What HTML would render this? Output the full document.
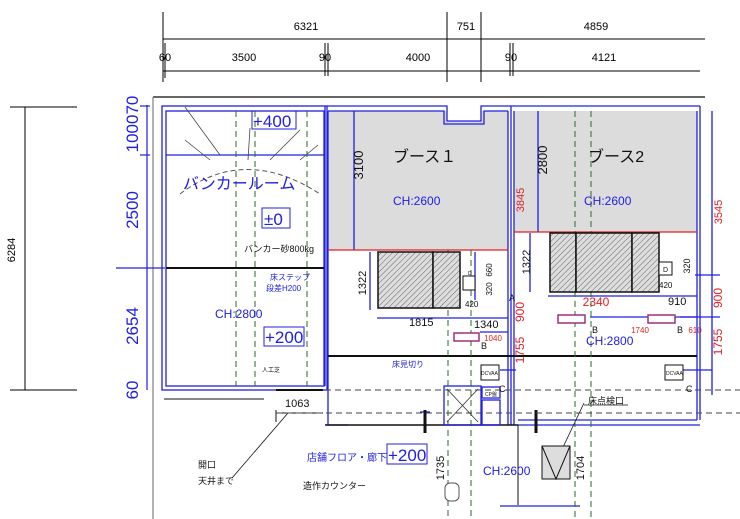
<!DOCTYPE html>
<html><head><meta charset="utf-8"><style>
html,body{margin:0;padding:0;background:#fff;}
svg{display:block;font-family:"Liberation Sans","Noto Sans CJK JP",sans-serif;}
</style></head><body>
<svg width="740" height="519" viewBox="0 0 740 519" xmlns="http://www.w3.org/2000/svg">
<defs>
<pattern id="h" width="4" height="4" patternUnits="userSpaceOnUse" patternTransform="rotate(45)">
<rect width="4" height="4" fill="#ddd"/><line x1="0" y1="0" x2="0" y2="4" stroke="#666" stroke-width="1"/></pattern>
</defs>
<!-- top dims -->
<g stroke="#000" stroke-width="1" fill="none">
<line x1="163" y1="39" x2="705" y2="39"/>
<line x1="163" y1="71" x2="700" y2="71"/>
<line x1="163" y1="12" x2="163" y2="82"/>
<line x1="447" y1="12" x2="447" y2="82"/>
<line x1="481" y1="12" x2="481" y2="82"/>
<line x1="165" y1="43" x2="165" y2="78"/>
<line x1="325" y1="43" x2="325" y2="76"/><line x1="328" y1="43" x2="328" y2="76"/>
<line x1="510" y1="43" x2="510" y2="76"/><line x1="513" y1="43" x2="513" y2="76"/>
<line x1="25" y1="107" x2="25" y2="390"/>
<line x1="10" y1="107" x2="77" y2="107"/><line x1="10" y1="390" x2="77" y2="390"/>
</g>
<g font-size="11" fill="#000" text-anchor="middle">
<text x="306" y="30">6321</text><text x="466" y="30">751</text><text x="596" y="30">4859</text>
<text x="165" y="61">60</text><text x="244" y="61">3500</text><text x="325" y="61">90</text>
<text x="418" y="61">4000</text><text x="511" y="61">90</text><text x="604" y="61">4121</text>
<text transform="translate(15,250) rotate(-90)">6284</text>
</g>
<!-- outer lines -->
<line x1="153" y1="97" x2="705" y2="97" stroke="#333" stroke-width="1.5"/>
<line x1="153" y1="97" x2="153" y2="519" stroke="#999" stroke-width="1.5"/>
<!-- left blue dim -->
<g stroke="#2020e0" stroke-width="1.2" fill="none">
<line x1="147" y1="105" x2="147" y2="390"/>
<line x1="116" y1="268" x2="165" y2="268"/>
<line x1="140" y1="106" x2="150" y2="106"/>
<line x1="140" y1="155" x2="150" y2="155"/>
</g>
<g font-size="17" fill="#2020e0" text-anchor="middle">
<text transform="translate(138,124) rotate(-90)">100070</text>
<text transform="translate(138,210) rotate(-90)">2500</text>
<text transform="translate(138,326) rotate(-90)">2654</text>
<text transform="translate(138,390) rotate(-90)">60</text>
</g>
<!-- grey booth fills -->
<rect x="328" y="111" width="180" height="139" fill="#dcdcdc"/>
<rect x="514" y="111" width="183" height="121" fill="#dcdcdc"/>
<rect x="447" y="106" width="34" height="15" fill="#fff"/>
<!-- walls -->
<g stroke="#2020e0" stroke-width="1.3" fill="none">
<rect x="162" y="106" width="165" height="284"/>
<rect x="166" y="111" width="158" height="275"/>
<line x1="166" y1="155" x2="324" y2="155"/>
<path d="M327 106 H447 V121 H481 V106 H700"/>
<path d="M328 111 H444 V124 H484 V111 H508"/>
<line x1="325" y1="106" x2="325" y2="386"/><line x1="328" y1="111" x2="328" y2="425"/>
<line x1="508" y1="111" x2="508" y2="425"/><line x1="511" y1="106" x2="511" y2="425"/>
<line x1="514" y1="111" x2="514" y2="425"/>
<line x1="697" y1="111" x2="697" y2="420"/><line x1="700" y1="106" x2="700" y2="420"/>
<line x1="328" y1="425" x2="348" y2="425"/>
<path d="M518 425 H700 M518 420 H697"/>
<line x1="580" y1="506" x2="500" y2="506"/>
<line x1="712" y1="111" x2="712" y2="395"/>
<line x1="695" y1="275" x2="720" y2="275"/><line x1="680" y1="317" x2="720" y2="317"/>
<line x1="354" y1="111" x2="354" y2="250"/>
<line x1="538" y1="111" x2="538" y2="232"/>
<line x1="370" y1="252" x2="370" y2="310"/>
<line x1="530" y1="233" x2="530" y2="292"/>
<line x1="377" y1="318" x2="508" y2="318"/>
<line x1="548" y1="296" x2="697" y2="296"/>
<line x1="590" y1="317" x2="697" y2="317"/>
<line x1="480" y1="332" x2="508" y2="332"/>
<line x1="500" y1="370" x2="516" y2="370"/><line x1="672" y1="370" x2="712" y2="370"/>
<line x1="475" y1="252" x2="475" y2="300"/>
<line x1="420" y1="412" x2="430" y2="412"/>
</g>
<!-- red lines -->
<line x1="328" y1="250" x2="508" y2="250" stroke="#e02020" stroke-width="1.3"/>
<line x1="514" y1="232" x2="697" y2="232" stroke="#e02020" stroke-width="1.3"/>
<!-- black lines -->
<g stroke="#111" fill="none">
<line x1="166" y1="268" x2="324" y2="268" stroke-width="2"/>
<line x1="328" y1="356" x2="697" y2="356" stroke-width="2"/>
<line x1="164" y1="399" x2="264" y2="399" stroke-width="1"/>
<line x1="276" y1="390" x2="323" y2="390" stroke-width="2"/>
<line x1="276" y1="410" x2="276" y2="422" stroke-width="1"/>
<line x1="276" y1="413" x2="323" y2="413" stroke-width="1"/>
<line x1="325" y1="425" x2="518" y2="425" stroke-width="1.5"/>
<line x1="425" y1="410" x2="425" y2="433" stroke-width="3"/>
<line x1="536" y1="410" x2="536" y2="433" stroke-width="3"/>
<line x1="518" y1="425" x2="518" y2="505" stroke-width="1"/>
<line x1="288" y1="413" x2="232" y2="478" stroke-width="0.8"/>
<line x1="584" y1="403" x2="556" y2="462" stroke-width="0.8"/>
<line x1="584" y1="405" x2="628" y2="405" stroke-width="0.8"/>
<path d="M180 194 Q245 145 320 194" stroke-dasharray="5,3" stroke="#555"/>
<path d="M185 97 L220 145 M210 150 L185 130 M250 118 L248 150 M300 120 L270 150 M318 135 L300 150" stroke="#444" stroke-width="0.8" transform="translate(0,10)"/>
</g>
<!-- dashed green -->
<g stroke="#2a6a2a" stroke-width="1" stroke-dasharray="6,4" fill="none">
<line x1="236" y1="111" x2="236" y2="386"/><line x1="255" y1="111" x2="255" y2="386"/>
<line x1="307" y1="111" x2="307" y2="386"/>
<line x1="448" y1="250" x2="448" y2="519"/><line x1="471" y1="250" x2="471" y2="519"/>
<line x1="575" y1="111" x2="575" y2="519"/><line x1="591" y1="111" x2="591" y2="519"/>
</g>
<g stroke="#444" stroke-width="1" stroke-dasharray="6,4">
<line x1="325" y1="390" x2="740" y2="390"/><line x1="276" y1="413" x2="740" y2="413"/>
</g>
<!-- furniture -->
<g stroke="#111" stroke-width="1.5" fill="url(#h)">
<rect x="378" y="252" width="55" height="56"/><rect x="433" y="252" width="27" height="56"/>
<rect x="550" y="233" width="26" height="59"/><rect x="576" y="233" width="56" height="59"/><rect x="632" y="233" width="27" height="59"/>
</g>
<g stroke="#111" fill="#fff" stroke-width="1">
<rect x="463" y="276" width="12" height="14"/><rect x="659" y="262" width="13" height="13"/>
<rect x="481" y="365" width="18" height="15"/><rect x="665" y="365" width="18" height="15"/>
<rect x="542" y="446" width="28" height="33" fill="#ddd"/>
<path d="M542 446 L556 479 L570 446" fill="none"/>
</g>
<g stroke="#2020e0" fill="none" stroke-width="1.3">
<rect x="444" y="386" width="37" height="39"/><rect x="482" y="400" width="18" height="25"/>
<rect x="482" y="387" width="18" height="11"/>
<path d="M447 389 L478 422 M478 389 L447 422" stroke="#333" stroke-width="0.8"/>
</g>
<rect x="445" y="483" width="14" height="18" rx="5" fill="#fff" stroke="#555"/>
<g fill="#fff" stroke="#a0307a" stroke-width="1.5">
<rect x="454" y="333" width="25" height="8"/><rect x="558" y="315" width="27" height="8"/><rect x="648" y="315" width="27" height="8"/>
</g>
<!-- texts -->
<g font-size="16" fill="#2020e0">
<text x="183" y="189">バンカールーム</text>
</g>
<g fill="#2020e0" font-size="17">
<rect x="252" y="111" width="44" height="18" fill="none" stroke="#2020e0"/><text x="253" y="127">+400</text>
<rect x="262" y="208" width="28" height="20" fill="none" stroke="#2020e0"/><text x="264" y="225">±0</text>
<rect x="264" y="327" width="40" height="19" fill="none" stroke="#2020e0"/><text x="265" y="343">+200</text>
<rect x="387" y="444" width="40" height="20" fill="none" stroke="#2020e0"/><text x="388" y="461">+200</text>
</g>
<g fill="#2020e0" font-size="12">
<text x="393" y="205">CH:2600</text><text x="584" y="205">CH:2600</text>
<text x="215" y="318">CH:2800</text><text x="586" y="345">CH:2800</text>
<text x="483" y="475">CH:2600</text>
</g>
<g fill="#2020e0" font-size="8">
<text x="270" y="280">床ステップ</text><text x="266" y="291">段差H200</text>
<text x="392" y="367">床見切り</text>
<text x="307" y="461" font-size="10">店舗フロア・廊下</text>
</g>
<g fill="#111">
<text x="393" y="162" font-size="16">ブース１</text>
<text x="588" y="162" font-size="16">ブース2</text>
<text x="244" y="252" font-size="9">バンカー砂800kg</text>
<text x="262" y="372" font-size="6">人工芝</text>
<text x="285" y="407" font-size="11">1063</text>
<text x="409" y="326" font-size="11">1815</text>
<text x="474" y="328" font-size="11">1340</text>
<text x="668" y="305" font-size="11">910</text>
<text x="588" y="404" font-size="9">床点検口</text>
<text x="198" y="468" font-size="9">開口</text>
<text x="198" y="484" font-size="9">天井まで</text>
<text x="303" y="489" font-size="9">造作カウンター</text>
<text x="465" y="307" font-size="8">420</text><text x="659" y="288" font-size="8">420</text>
<text x="509" y="301" font-size="9">A</text><text x="677" y="333" font-size="9">B</text><text x="592" y="333" font-size="9">B</text>
<text x="481" y="349" font-size="9">B</text><text x="499" y="392" font-size="9">C</text><text x="686" y="392" font-size="9">C</text>
<text x="481" y="375" font-size="5">DCVAA</text><text x="666" y="375" font-size="5">DCVAA</text>
<text x="485" y="396" font-size="5">CP盤</text>
<text x="468" y="275" font-size="5">D</text><text x="663" y="272" font-size="7">D</text>
</g>
<g fill="#111" font-size="13" text-anchor="middle">
<text transform="translate(363,165) rotate(-90)">3100</text>
<text transform="translate(547,160) rotate(-90)">2800</text>
</g>
<g fill="#111" font-size="11" text-anchor="middle">
<text transform="translate(366,283) rotate(-90)">1322</text>
<text transform="translate(530,262) rotate(-90)">1322</text>
<text transform="translate(444,468) rotate(-90)">1735</text>
<text transform="translate(584,468) rotate(-90)">1704</text>
<text transform="translate(492,270) rotate(-90)" font-size="8">660</text>
<text transform="translate(492,289) rotate(-90)" font-size="8">320</text>
<text transform="translate(690,266) rotate(-90)" font-size="9">320</text>
</g>
<g fill="#e02020" text-anchor="middle">
<text transform="translate(524,200) rotate(-90)" font-size="11">3845</text>
<text transform="translate(722,212) rotate(-90)" font-size="11">3545</text>
<text transform="translate(524,312) rotate(-90)" font-size="12">900</text>
<text transform="translate(524,350) rotate(-90)" font-size="12">1755</text>
<text transform="translate(722,298) rotate(-90)" font-size="12">900</text>
<text transform="translate(722,342) rotate(-90)" font-size="12">1755</text>
<text x="596" y="306" font-size="12">2340</text>
<text x="640" y="333" font-size="8">1740</text>
<text x="695" y="333" font-size="8">610</text>
<text x="493" y="341" font-size="8">1040</text>
</g>
</svg>
</body></html>
